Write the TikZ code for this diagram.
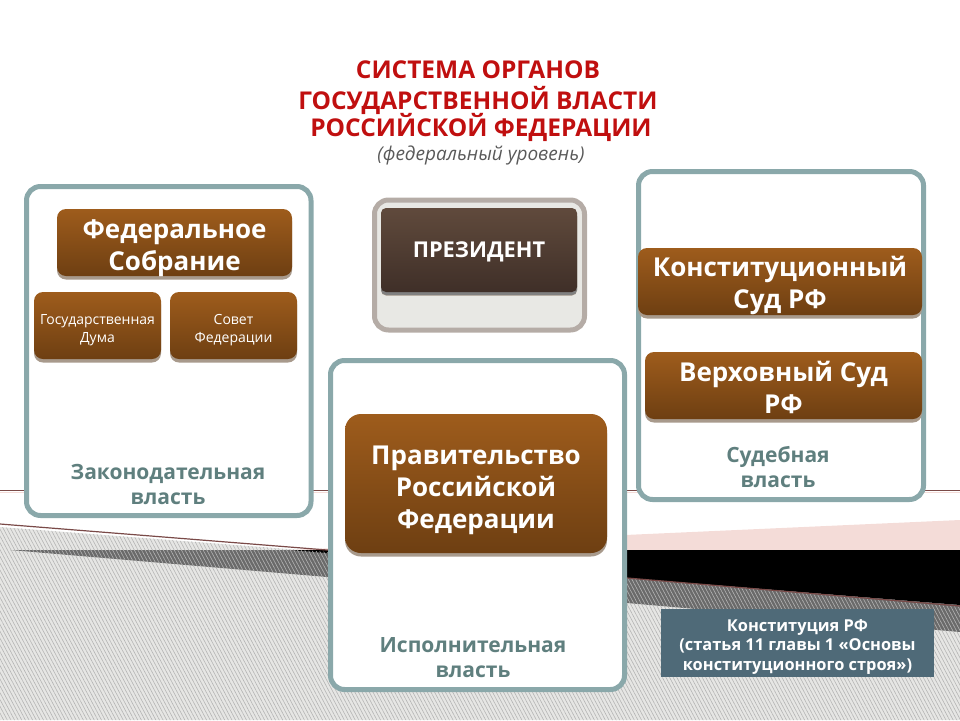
\documentclass[tikz,border=0pt]{standalone}
\usepackage{fontspec}
\setmainfont{Open Sans}
\usetikzlibrary{patterns.meta,shadows}
\definecolor{panelline}{HTML}{8AA8AA}
\definecolor{paneltext}{HTML}{5F7F7E}
\definecolor{titlered}{HTML}{C00F0F}
\definecolor{browntop}{HTML}{9E5C1C}
\definecolor{brownbot}{HTML}{6E3F12}
\definecolor{brownshade}{HTML}{A89A8C}
\definecolor{prestop}{HTML}{604A3C}
\definecolor{presbot}{HTML}{3F2F28}
\definecolor{presline}{HTML}{B5ACA6}
\definecolor{presfill}{HTML}{E8E8E4}
\definecolor{hatchbg}{HTML}{E6E6E4}
\definecolor{hatchline}{HTML}{B4B4B4}
\definecolor{banddark}{HTML}{6A6A6A}
\definecolor{bandpink}{HTML}{F4DCD8}
\definecolor{bandline}{HTML}{7A4A48}
\definecolor{slate}{HTML}{4F6A78}
\newcommand{\lift}[1]{\rule{0pt}{#1pt}}

\begin{document}
\begin{tikzpicture}[x=1pt,y=-1pt]
\tikzstyle{panel}=[draw=panelline,line width=5pt,fill=white,rounded corners=14pt,inner sep=0pt]
\tikzstyle{brownbox}=[rounded corners=9pt,top color=browntop,bottom color=brownbot,text=white,align=center,inner sep=0pt,
  text depth=0pt,general shadow={shadow yshift=-3.5pt,fill=brownshade}]
\tikzstyle{panellabel}=[text=paneltext,font=\bfseries\fontsize{21}{25}\selectfont,align=center,inner sep=0pt]
\tikzstyle{bigtext}=[font=\bfseries\fontsize{26}{32}\selectfont]
\tikzstyle{smalltext}=[font=\fontsize{14}{18}\selectfont]
\tikzstyle{titletext}=[text=titlered,font=\bfseries\fontsize{24.5}{28}\selectfont,inner sep=0pt]

\useasboundingbox (0,0) rectangle (960,720);

% background
\path [fill=hatchbg] (0,527) -- (327,552) -- (960,630) -- (960,720) -- (0,720) -- cycle;
\path [fill=banddark] (10,550) -- (327,550) -- (627,578) -- (960,605) -- (960,632) -- (627,603) -- (327,577) -- cycle;
\path [fill=bandpink] (290,550) -- (960,520) -- (960,550) -- cycle;
\path [fill=black] (290,550) -- (960,550) -- (960,605) -- (627,578) -- cycle;
\path [pattern={Lines[angle=-62,distance=3.2pt,line width=0.6pt]},pattern color=hatchline]
  (0,527) -- (327,552) -- (627,578) -- (960,607) -- (960,720) -- (0,720) -- cycle;
\draw [bandline,line width=1.2pt] (0,524) -- (327,550) -- (627,578) -- (960,606);
\draw [bandline,line width=0.8pt] (0,490) -- (960,490);
\draw [bandpink,line width=1pt] (0,492) -- (960,492);

% title
\node [titletext] (title1) at(478,70) {СИСТЕМА ОРГАНОВ};
\node [titletext] (title2) at(478,100) {ГОСУДАРСТВЕННОЙ ВЛАСТИ};
\node [titletext] (title3) at(481,127) {РОССИЙСКОЙ ФЕДЕРАЦИИ};
\node (subtitle) at(481,155) [text=black!65,font=\itshape\fontsize{19}{20}\selectfont,inner sep=0pt] {(федеральный уровень)};

% panels
\node [panel] (zakon) at(168.75,351) [minimum width=284.5,minimum height=329] {};
\node [panel] (sud) at(781,335.5) [minimum width=285,minimum height=328] {};
\node [panel] (isp) at(477.5,525) [minimum width=294,minimum height=329] {};
\node [panel,draw=presline,fill=presfill] (prez) at(479.5,265) [minimum width=210,minimum height=130] {};

% boxes
\node [brownbox,bigtext,minimum width=235,minimum height=67] (fedsob) at(174.5,242.5) {\lift{24}Федеральное\\Собрание};
\node [brownbox,smalltext,minimum width=127,minimum height=67] (duma) at(97.5,325.5) {\lift{15}Государственная\\Дума};
\node [brownbox,smalltext,minimum width=127,minimum height=67] (sovet) at(233.5,325.5) {\lift{15}Совет\\Федерации};
\node [brownbox,top color=prestop,bottom color=presbot,rounded corners=5pt,minimum width=196,minimum height=84,
  font=\bfseries\fontsize{21.8}{25}\selectfont,general shadow={shadow yshift=-3pt,fill=black!50}] (president) at(479,250) {ПРЕЗИДЕНТ};
\node [brownbox,bigtext,minimum width=284,minimum height=67] (konst) at(780,281.5) {\lift{22}Конституционный\\Суд РФ};
\node [brownbox,bigtext,minimum width=277,minimum height=67] (verh) at(783.5,385.5) {\lift{24}Верховный Суд\\РФ};
\node [brownbox,bigtext,rounded corners=16pt,minimum width=262,minimum height=139] (prav) at(476,483.5) {\lift{26}Правительство\\Российской\\Федерации};

% labels
\node [panellabel] (zakonlabel) at(168,484) {Законодательная\\власть};
\node [panellabel] (sudlabel) at(778,467.5) {Судебная\\власть};
\node [panellabel] (isplabel) at(473,657.5) {Исполнительная\\власть};
\node [fill=slate,text=white,align=center,inner sep=0pt,minimum width=273,minimum height=68,text depth=0pt,
  font=\bfseries\fontsize{16.4}{19.5}\selectfont] (constbox) at(797.5,643) {\lift{15}Конституция РФ\\(статья 11 главы 1 «Основы\\конституционного строя»)};
\end{tikzpicture}
\end{document}
